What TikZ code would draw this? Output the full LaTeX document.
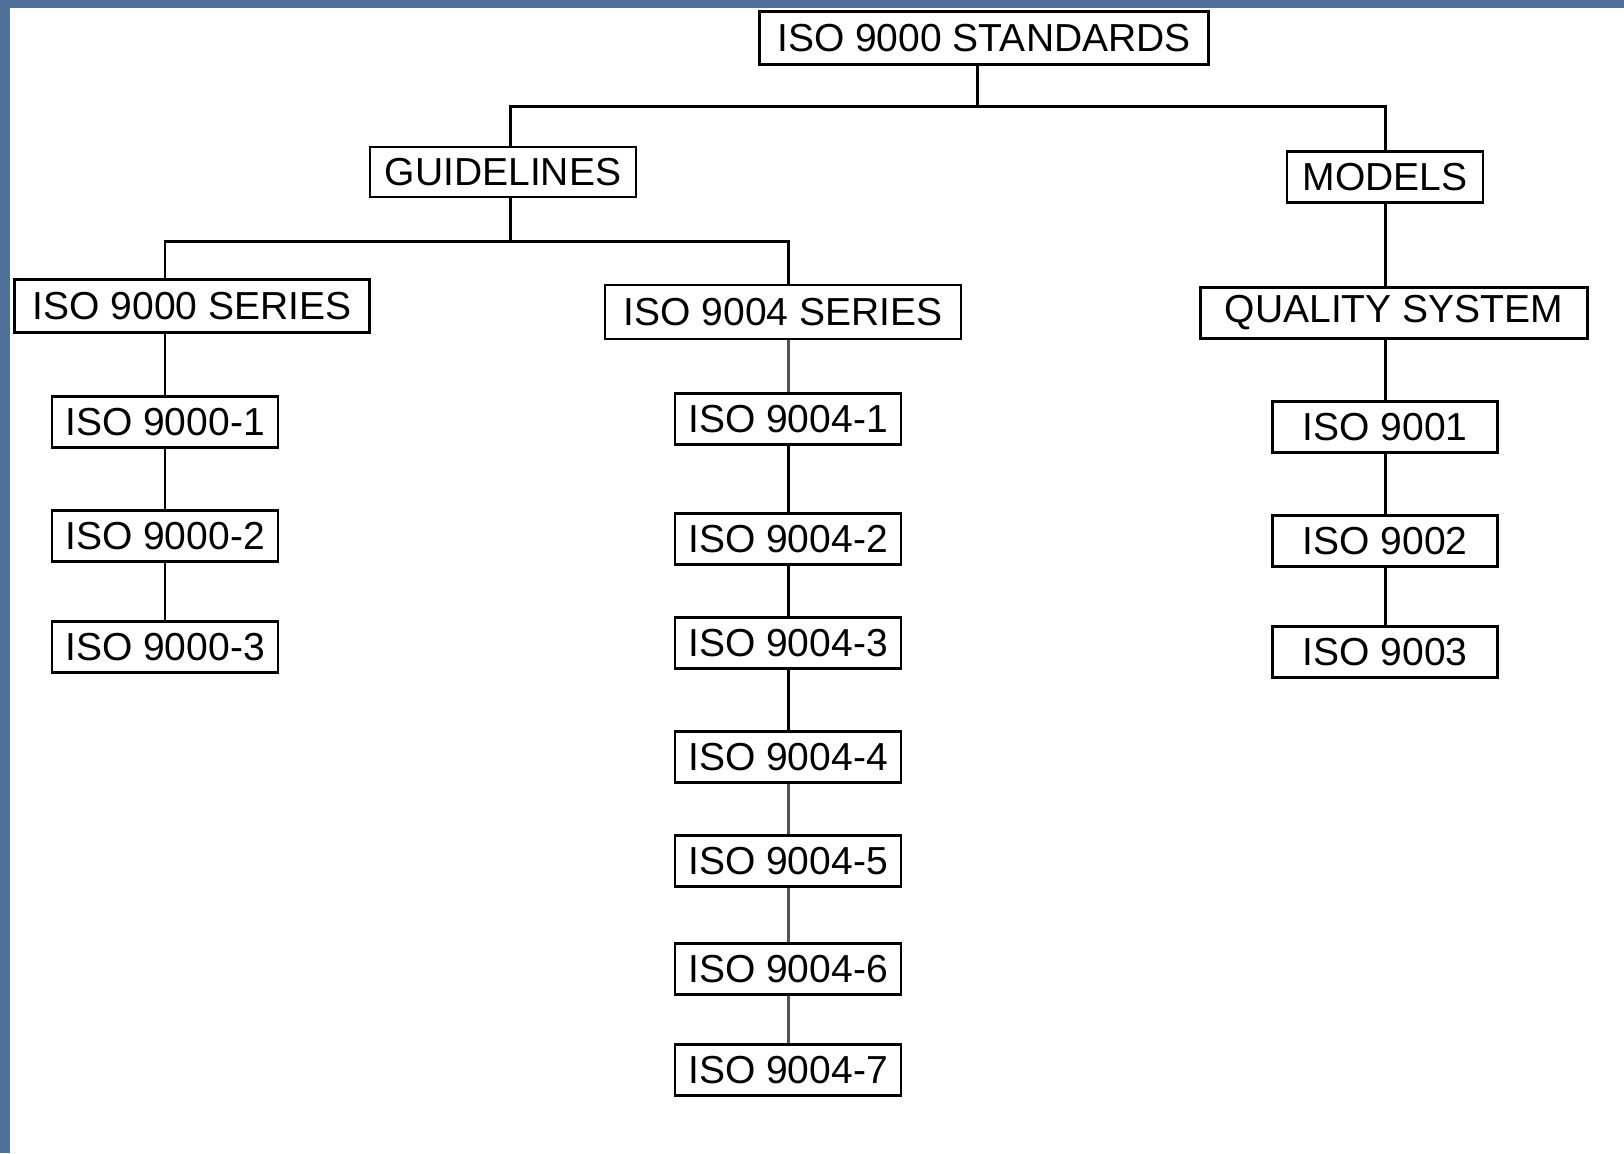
\documentclass[tikz,border=0pt]{standalone}
\usepackage{fontspec}
\setmainfont{Liberation Sans}
\usepackage{xcolor}
\usepackage{tikz}
\definecolor{slideblue}{HTML}{4F7099}

\begin{document}
\begin{tikzpicture}[
  x=0.01cm, y=-0.01cm,
  every node/.style={font=\fontsize{11.1}{13}\selectfont},
  box/.style={rectangle, draw=black, line width=0.7pt, fill=white,
              inner sep=0pt, minimum height=0.51cm, text=black},
  link/.style={line width=0.85pt, black},
  greylink/.style={line width=0.85pt, gray!65!black}
]

% slide frame
\fill[slideblue] (0,0) rectangle (1624,1153);
\fill[white] (10,8) rectangle (1624,1153);
\useasboundingbox (0,0) rectangle (1624,1153);

\node[box, minimum width=4.49cm, minimum height=0.53cm] (iso) at (984,38) {ISO 9000 STANDARDS};

\node[box, minimum width=2.66cm, minimum height=0.50cm] (guide) at (503,172) {GUIDELINES};
\node[box, minimum width=1.96cm] (models) at (1385,177) {MODELS};

\node[box, minimum width=3.55cm, minimum height=0.53cm] (ser0) at (192,306) {ISO 9000 SERIES};
\node[box, minimum width=3.56cm, minimum height=0.54cm] (ser4) at (783,312) {ISO 9004 SERIES};
\node[box, minimum width=3.87cm] (qsys) at (1394,313) {QUALITY SYSTEM};

\node[box, minimum width=2.26cm] (g1) at (165,422) {ISO 9000-1};
\node[box, minimum width=2.26cm] (g2) at (165,536) {ISO 9000-2};
\node[box, minimum width=2.26cm] (g3) at (165,647) {ISO 9000-3};

\node[box, minimum width=2.26cm] (h1) at (788,419) {ISO 9004-1};
\node[box, minimum width=2.26cm] (h2) at (788,539) {ISO 9004-2};
\node[box, minimum width=2.26cm] (h3) at (788,643) {ISO 9004-3};
\node[box, minimum width=2.26cm] (h4) at (788,757) {ISO 9004-4};
\node[box, minimum width=2.26cm] (h5) at (788,861) {ISO 9004-5};
\node[box, minimum width=2.26cm] (h6) at (788,969) {ISO 9004-6};
\node[box, minimum width=2.26cm] (h7) at (788,1070) {ISO 9004-7};

\node[box, minimum width=2.25cm] (m1) at (1385,427) {ISO 9001};
\node[box, minimum width=2.25cm] (m2) at (1385,541) {ISO 9002};
\node[box, minimum width=2.25cm] (m3) at (1385,652) {ISO 9003};

% top split
\draw[link] ([xshift=-0.07cm]iso.south) -- ++(0,41) -| ([xshift=0.07cm]guide.north);
\draw[link] ([xshift=-0.07cm]iso.south) -- ++(0,41) -| (models.north);

% guidelines split
\draw[link] ([xshift=0.07cm]guide.south) -- ++(0,43) -| (g1 |- ser0.north);
\draw[link] ([xshift=0.07cm]guide.south) -- ++(0,43) -| (h1 |- ser4.north);

% 9000 column
\draw[link] (g1 |- ser0.south) -- (g1.north);
\draw[link] (g1) -- (g2);
\draw[link] (g2) -- (g3);

% 9004 column
\draw[greylink] (h1 |- ser4.south) -- (h1.north);
\draw[link] (h1) -- (h2);
\draw[link] (h2) -- (h3);
\draw[link] (h3) -- (h4);
\draw[greylink] (h4) -- (h5);
\draw[greylink] (h5) -- (h6);
\draw[greylink] (h6) -- (h7);

% models column
\draw[link] (models.south) -- (models.south |- qsys.north);
\draw[link] (m1 |- qsys.south) -- (m1.north);
\draw[link] (m1) -- (m2);
\draw[link] (m2) -- (m3);

\end{tikzpicture}
\end{document}
